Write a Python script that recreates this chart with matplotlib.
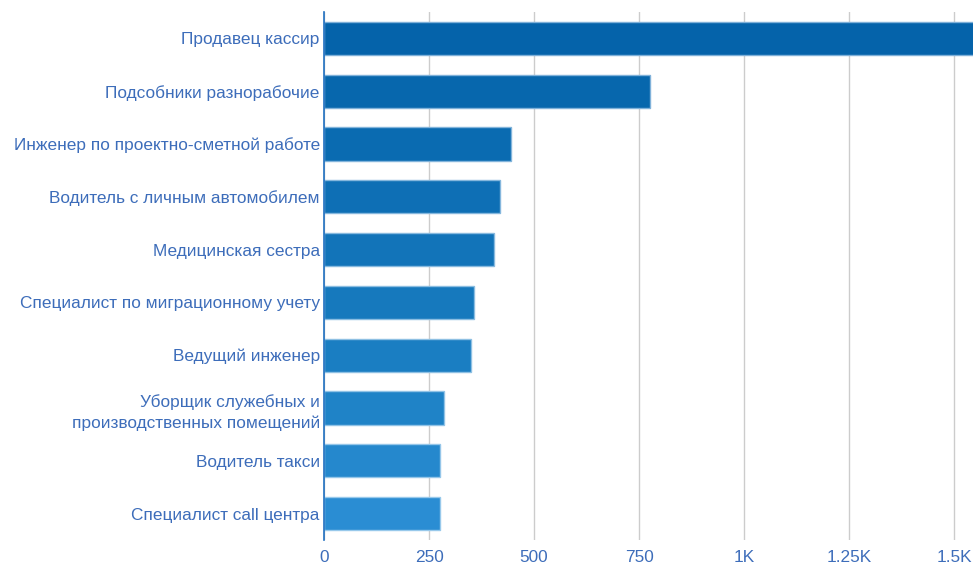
import matplotlib.pyplot as plt
from matplotlib.ticker import FixedLocator, FixedFormatter

plt.rcParams['font.family'] = ['Liberation Sans', 'DejaVu Sans']

professions = [
    'Продавец кассир',
    'Подсобники разнорабочие',
    'Инженер по проектно-сметной работе',
    'Водитель с личным автомобилем',
    'Медицинская сестра',
    'Специалист по миграционному учету',
    'Ведущий инженер',
    'Уборщик служебных и\nпроизводственных помещений',
    'Водитель такси',
    'Специалист call центра',
]
vacancies = [1600, 776, 446, 420, 405, 357, 349, 286, 277, 277]
bar_colors = ['#0563aa', '#0767ad', '#0a6bb1', '#0e6fb5', '#1274b9',
              '#1679bd', '#1a7ec2', '#1f83c7', '#2588cd', '#2a8dd3']
edge_colors = ['#7fb0d8', '#80b2da', '#82b4db', '#85b7dd', '#88badf',
               '#8bbde1', '#8ec0e3', '#91c3e6', '#95c6e9', '#98c9eb']
x_ticks = [0, 250, 500, 750, 1000, 1250, 1500]
x_labels = ['0', '250', '500', '750', '1K', '1.25K', '1.5K']

text_color = '#3d6dba'

fig = plt.figure(figsize=(9.73, 5.64), dpi=100)
ax = fig.add_axes([324 / 973, 1 - 540 / 564, 1 - 324 / 973, 528 / 564])

ax.barh(range(len(professions)), vacancies, height=0.63,
        color=bar_colors, edgecolor=edge_colors, linewidth=1.0, zorder=3)

ax.set_ylim(len(professions) - 0.5, -0.5)
ax.set_xlim(0, 1545)

ax.set_yticks(range(len(professions)))
ax.set_yticklabels(professions, fontsize=12.4, color=text_color,
                   linespacing=1.45)
ax.tick_params(axis='y', length=0, pad=3)

ax.xaxis.set_major_locator(FixedLocator(x_ticks))
ax.xaxis.set_major_formatter(FixedFormatter(x_labels))
ax.tick_params(axis='x', length=0, pad=7, labelsize=12.4,
               labelcolor=text_color)

ax.grid(axis='x', color='#cccccc', linewidth=1, zorder=0)
for side in ['top', 'right', 'bottom']:
    ax.spines[side].set_visible(False)
ax.spines['left'].set_color('#1f6fc0')
ax.spines['left'].set_linewidth(1.2)
ax.spines['left'].set_zorder(4)

fig.savefig('out.png', dpi=100)
